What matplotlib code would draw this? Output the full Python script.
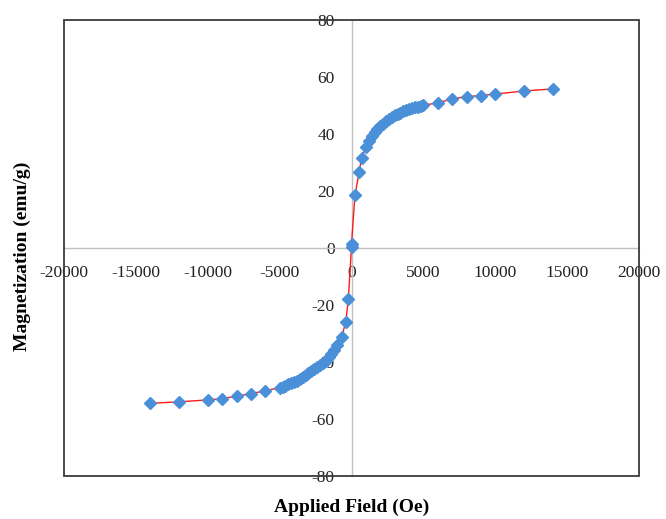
import matplotlib.pyplot as plt
from matplotlib.patches import Rectangle

# applied field (Oe) and magnetization (emu/g)
field_neg = [-14000, -12000, -10000, -9000, -8000, -7000, -6000, -5000,
             -4800, -4600, -4400, -4200, -4000, -3800, -3600, -3400, -3200,
             -3000, -2800, -2600, -2400, -2200, -2000, -1800, -1600, -1400,
             -1200, -1000, -680, -400, -220]
mag_neg = [-54.5, -54.0, -53.3, -52.9, -52.0, -51.1, -50.1, -49.0,
           -48.7, -48.3, -47.9, -47.5, -47.1, -46.6, -46.0, -45.4, -44.7,
           -44.0, -43.3, -42.6, -41.9, -41.2, -40.4, -39.5, -38.4, -37.2,
           -35.9, -34.2, -31.1, -26.0, -17.8]

field_pos = [0, 0, 240, 540, 700, 1000, 1200, 1400, 1600, 1800, 2000,
             2200, 2400, 2600, 2800, 3000, 3200, 3400, 3600, 3800, 4000,
             4200, 4400, 4600, 4800, 5000, 6000, 7000, 8000, 9000, 10000,
             12000, 14000]
mag_pos = [0.3, 1.5, 18.6, 26.8, 31.7, 35.5, 37.5, 39.2, 40.6, 41.8, 42.8,
           43.6, 44.4, 45.1, 45.8, 46.5, 47.0, 47.5, 48.0, 48.4, 48.8,
           49.1, 49.4, 49.6, 49.9, 50.1, 50.9, 52.3, 53.1, 53.5, 54.0,
           55.1, 55.8]

field = field_neg + field_pos
mag = mag_neg + mag_pos

x_ticks = [-20000, -15000, -10000, -5000, 0, 5000, 10000, 15000, 20000]
y_ticks = [-80, -60, -40, -20, 0, 20, 40, 60, 80]

plt.rcParams["font.family"] = ["Liberation Serif", "DejaVu Serif"]

fig = plt.figure(figsize=(6.66, 5.19), dpi=100)
ax = fig.add_axes([0.0961, 0.0829, 0.8634, 0.8786])

ax.plot(field, mag, color="#ff1a1a", linewidth=1.0, zorder=3)
ax.plot(field, mag, linestyle="none", marker="D", markersize=5.8,
        color="#4a90d9", markeredgecolor="#4a90d9", zorder=4)

ax.set_xlim(-20000, 20000)
ax.set_ylim(-80, 80)
ax.set_xticks(x_ticks)
ax.set_yticks(y_ticks)
ax.set_xticklabels([str(v) for v in x_ticks])
ax.set_yticklabels([str(v) for v in y_ticks])

# axes crossing at the origin, Excel style
ax.spines["left"].set_position("zero")
ax.spines["bottom"].set_position("zero")
for side in ("left", "bottom"):
    ax.spines[side].set_color("#c0c0c0")
    ax.spines[side].set_linewidth(1.0)
for side in ("top", "right"):
    ax.spines[side].set_visible(False)

ax.tick_params(axis="both", length=0, labelsize=12.5, labelcolor="#222222")
ax.tick_params(axis="x", pad=12)
ax.tick_params(axis="y", pad=12)

# outer plot-area frame
ax.add_patch(Rectangle((0, 0), 1, 1, transform=ax.transAxes, fill=False,
                       edgecolor="#3a3a3a", linewidth=1.3, clip_on=False,
                       zorder=5))

fig.text(0.5285, 0.023, "Applied Field (Oe)", ha="center", va="center",
         fontsize=14, fontweight="bold")
fig.text(0.034, 0.507, "Magnetization (emu/g)", ha="center", va="center",
         rotation=90, fontsize=14, fontweight="bold")

fig.savefig("out.png", dpi=100)
